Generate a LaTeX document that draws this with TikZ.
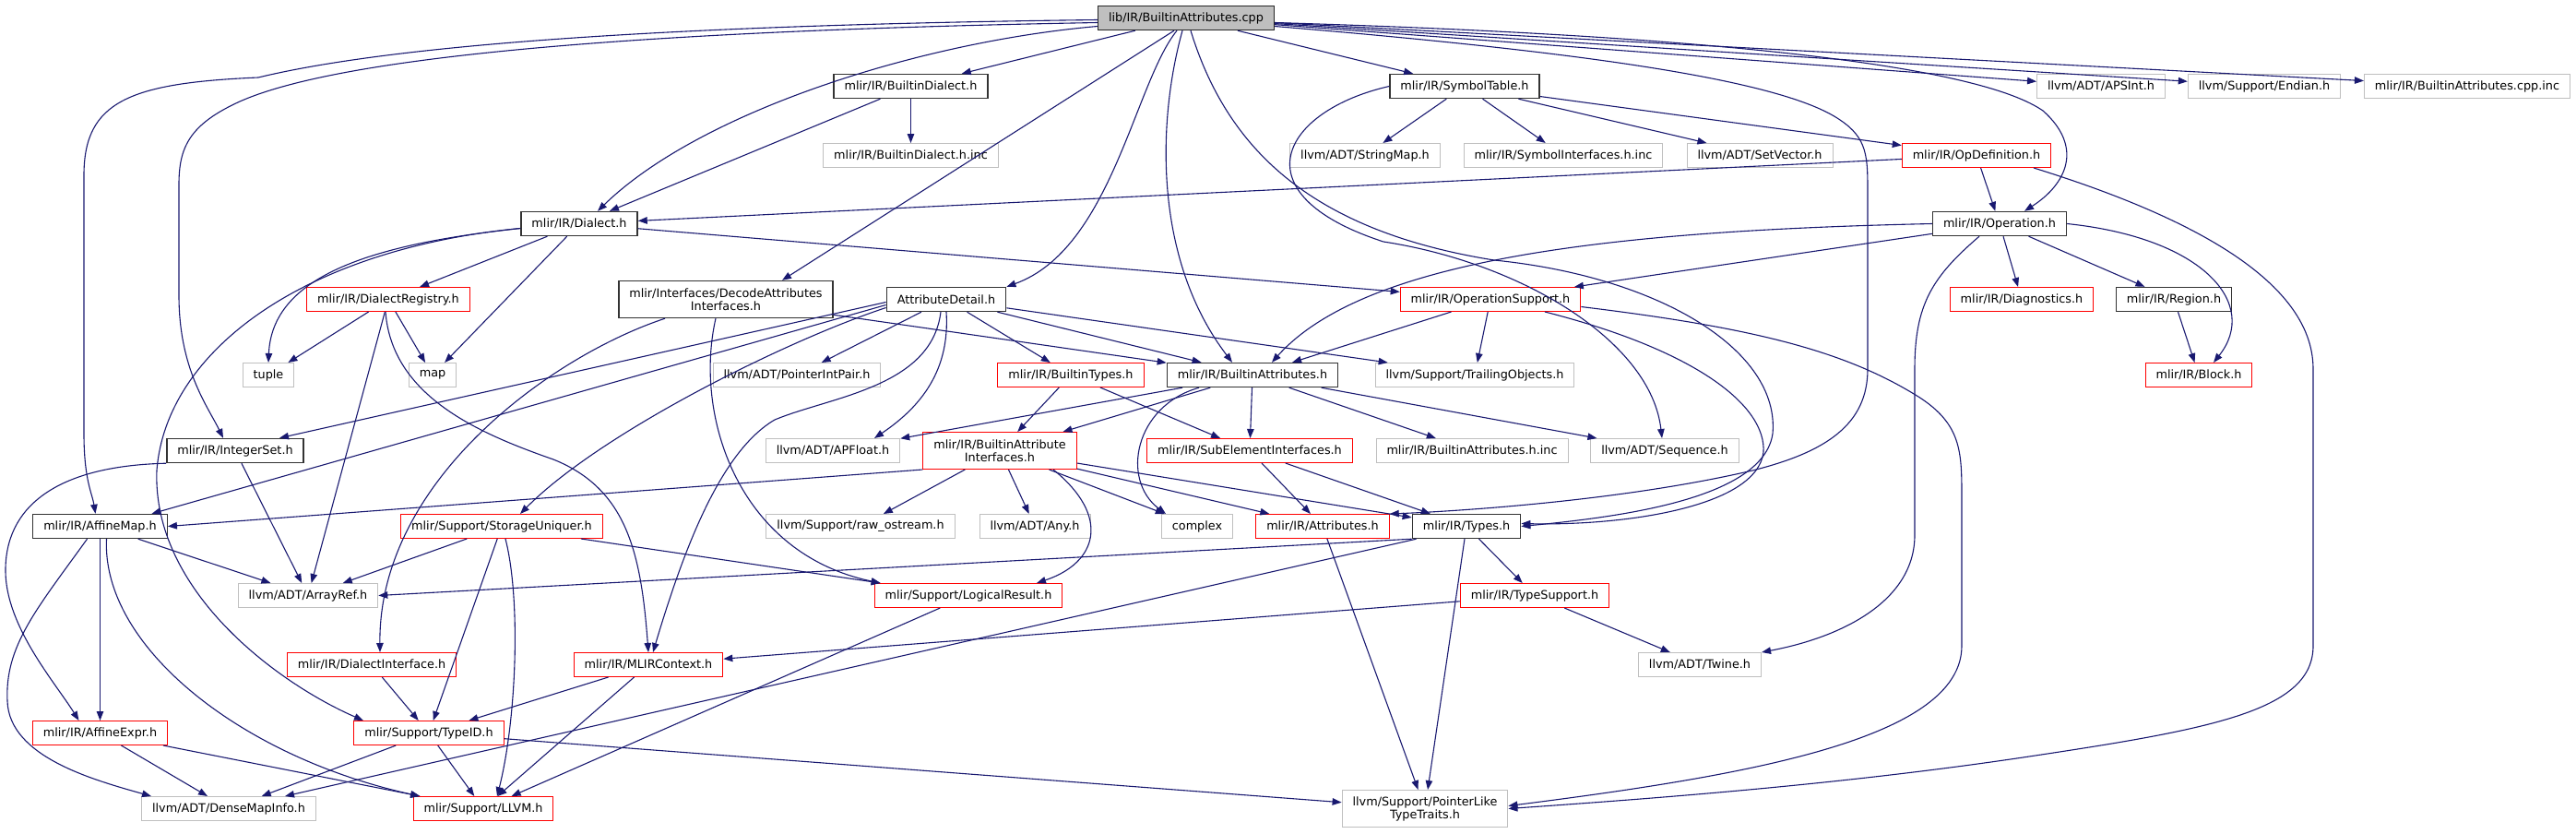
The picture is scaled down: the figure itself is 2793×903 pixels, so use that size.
\documentclass[tikz,border=0pt]{standalone}
\usepackage{fontspec}
\setmainfont{DejaVu Sans}
\usetikzlibrary{arrows.meta}
\definecolor{edgeblue}{RGB}{25,25,112}
\definecolor{extgray}{RGB}{191,191,191}
\begin{document}
\begin{tikzpicture}[
  x=1pt, y=-1pt,
  every node/.style={font=\fontsize{12.8}{14}\selectfont},
  file/.style={rectangle, fill=white, inner xsep=11.5pt, inner ysep=0pt, minimum height=26pt, line width=1pt, align=center},
  tall/.style={minimum height=40pt},
  root/.style={file, draw=black!85, line width=1.4pt, fill=extgray},
  doc/.style={file, draw=black!80, line width=1.4pt},
  ext/.style={file, draw=extgray},
  trunc/.style={file, draw=red},
  dep/.style={-{Triangle[length=10pt,width=7.5pt]}, draw=edgeblue, line width=1.1pt}
]
  \useasboundingbox (0,0) rectangle (2793,903);

  \node[root] (cpp) at (1286,19.5) {lib/IR/BuiltinAttributes.cpp};
  \node[doc] (bdialect) at (987.5,93.5) {mlir/IR/BuiltinDialect.h};
  \node[doc] (symtab) at (1588,93.5) {mlir/IR/SymbolTable.h};
  \node[ext] (apsint) at (2278,93.5) {llvm/ADT/APSInt.h};
  \node[ext] (endian) at (2455,93.5) {llvm/Support/Endian.h};
  \node[ext] (cppinc) at (2675,93.5) {mlir/IR/BuiltinAttributes.cpp.inc};
  \node[ext] (bdinc) at (987.5,168.5) {mlir/IR/BuiltinDialect.h.inc};
  \node[ext] (strmap) at (1480,168.5) {llvm/ADT/StringMap.h};
  \node[ext] (syminc) at (1695,168.5) {mlir/IR/SymbolInterfaces.h.inc};
  \node[ext] (setvec) at (1908,168.5) {llvm/ADT/SetVector.h};
  \node[trunc] (opdef) at (2143,168.5) {mlir/IR/OpDefinition.h};
  \node[doc] (dialect) at (628,242.5) {mlir/IR/Dialect.h};
  \node[doc] (operation) at (2168,242.5) {mlir/IR/Operation.h};
  \node[trunc] (registry) at (421,324.5) {mlir/IR/DialectRegistry.h};
  \node[doc,tall] (decode) at (787,324.5) {mlir/Interfaces/DecodeAttributes\\Interfaces.h};
  \node[doc] (attrdetail) at (1026,324.5) {AttributeDetail.h};
  \node[trunc] (opsupport) at (1616,324.5) {mlir/IR/OperationSupport.h};
  \node[trunc] (diag) at (2192,324.5) {mlir/IR/Diagnostics.h};
  \node[doc] (region) at (2357,324.5) {mlir/IR/Region.h};
  \node[ext] (tuple) at (291,406.5) {tuple};
  \node[ext] (stdmap) at (469,406.5) {map};
  \node[ext] (ptrint) at (864,406.5) {llvm/ADT/PointerIntPair.h};
  \node[trunc] (btypes) at (1161,406.5) {mlir/IR/BuiltinTypes.h};
  \node[doc] (battrs) at (1358,406.5) {mlir/IR/BuiltinAttributes.h};
  \node[ext] (trailing) at (1599,406.5) {llvm/Support/TrailingObjects.h};
  \node[trunc] (block) at (2384,406.5) {mlir/IR/Block.h};
  \node[doc] (intset) at (255,488.5) {mlir/IR/IntegerSet.h};
  \node[ext] (apfloat) at (903,488.5) {llvm/ADT/APFloat.h};
  \node[trunc,tall] (bai) at (1084,488.5) {mlir/IR/BuiltinAttribute\\Interfaces.h};
  \node[trunc] (subelem) at (1355,488.5) {mlir/IR/SubElementInterfaces.h};
  \node[ext] (battrsinc) at (1596,488.5) {mlir/IR/BuiltinAttributes.h.inc};
  \node[ext] (sequence) at (1805,488.5) {llvm/ADT/Sequence.h};
  \node[doc] (affmap) at (108.5,570.5) {mlir/IR/AffineMap.h};
  \node[trunc] (uniquer) at (544,570.5) {mlir/Support/StorageUniquer.h};
  \node[ext] (rawos) at (933,570.5) {llvm/Support/raw\_ostream.h};
  \node[ext] (anyh) at (1122,570.5) {llvm/ADT/Any.h};
  \node[ext] (complex) at (1298,570.5) {complex};
  \node[trunc] (attrs) at (1434,570.5) {mlir/IR/Attributes.h};
  \node[doc] (types) at (1590,570.5) {mlir/IR/Types.h};
  \node[ext] (arrayref) at (334,645.5) {llvm/ADT/ArrayRef.h};
  \node[trunc] (logical) at (1050,645.5) {mlir/Support/LogicalResult.h};
  \node[trunc] (typesupp) at (1664,645.5) {mlir/IR/TypeSupport.h};
  \node[trunc] (dinterface) at (403,720.5) {mlir/IR/DialectInterface.h};
  \node[trunc] (context) at (703,720.5) {mlir/IR/MLIRContext.h};
  \node[ext] (twine) at (1843,720.5) {llvm/ADT/Twine.h};
  \node[trunc] (affexpr) at (108.5,794.5) {mlir/IR/AffineExpr.h};
  \node[trunc] (typeid) at (465,794.5) {mlir/Support/TypeID.h};
  \node[ext] (densemap) at (248,876.5) {llvm/ADT/DenseMapInfo.h};
  \node[trunc] (llvm) at (524,876.5) {mlir/Support/LLVM.h};
  \node[ext,tall] (ptrlike) at (1545,876.5) {llvm/Support/PointerLike\\TypeTraits.h};

  \foreach \src/\dst in {cpp/bdialect, cpp/symtab, cpp/apsint, cpp/endian, cpp/cppinc,
      bdialect/dialect, bdialect/bdinc, symtab/strmap, symtab/syminc, symtab/setvec, symtab/opdef,
      opdef/dialect, opdef/operation, operation/diag, operation/region, region/block,
      operation/opsupport, dialect/registry, dialect/stdmap, dialect/opsupport,
      registry/tuple, registry/stdmap, registry/arrayref, decode/battrs,
      attrdetail/ptrint, attrdetail/btypes, attrdetail/battrs, attrdetail/trailing,
      opsupport/battrs, opsupport/trailing, btypes/bai, btypes/subelem,
      battrs/subelem, battrs/battrsinc, battrs/sequence, battrs/apfloat, battrs/bai,
      bai/rawos, bai/anyh, bai/complex, bai/attrs, bai/types, subelem/attrs, subelem/types,
      attrs/ptrlike, types/typesupp, types/ptrlike, typesupp/context, typesupp/twine,
      intset/arrayref, affmap/arrayref, affmap/affexpr, affexpr/densemap, affexpr/llvm,
      typeid/densemap, typeid/llvm, typeid/ptrlike, dinterface/typeid, context/typeid,
      context/llvm, uniquer/arrayref, uniquer/typeid, logical/llvm}
    \draw[dep] (\src) -- (\dst);

  \draw[dep] ([yshift=-2pt]cpp.west) .. controls (650,28) and (400,55) .. (280,84) .. controls (140,90) and (91,110) .. (91,190) -- (91,470) .. controls (91,520) and (100,535) .. ([xshift=-5pt]affmap.north);
  \draw[dep] ([yshift=-5pt]cpp.west) .. controls (600,35) and (350,70) .. (260,110) .. controls (205,135) and (194,160) .. (194,200) -- (194,320) .. controls (194,400) and (225,440) .. ([xshift=-13pt]intset.north);
  \draw[dep] ([yshift=-9pt]cpp.west) .. controls (1000,45) and (760,120) .. ([xshift=20pt]dialect.north);
  \draw[dep] ([xshift=-13pt]cpp.south) -- ([xshift=61pt]decode.north);
  \draw[dep] ([xshift=-10pt]cpp.south) .. controls (1230,90) and (1205,270) .. (attrdetail.north east);
  \draw[dep] ([xshift=-4pt]cpp.south) .. controls (1255,130) and (1250,280) .. ([xshift=-22pt]battrs.north);
  \draw[dep] ([xshift=5pt]cpp.south) .. controls (1330,160) and (1420,250) .. (1620,282) .. controls (1800,300) and (1930,380) .. (1922,470) .. controls (1912,540) and (1760,560) .. (types.east);
  \draw[dep] ([yshift=-5pt]cpp.east) .. controls (1900,40) and (2150,75) .. (2215,120) .. controls (2260,160) and (2240,200) .. ([xshift=27pt]operation.north);
  \draw[dep] ([yshift=-9pt]cpp.east) .. controls (1700,55) and (1930,85) .. (1995,130) .. controls (2025,150) and (2025,170) .. (2025,210) -- (2025,400) .. controls (2025,460) and (1980,490) .. (1900,510) .. controls (1750,545) and (1560,555) .. (attrs.north east);
  \draw[dep] (symtab.west) .. controls (1390,120) and (1340,210) .. (1500,262) .. controls (1650,285) and (1790,370) .. ([xshift=-3pt]sequence.north);
  \draw[dep] ([xshift=62pt]opdef.south) .. controls (2360,230) and (2508,300) .. (2508,400) -- (2508,700) .. controls (2508,770) and (2400,790) .. (2200,820) .. controls (2000,850) and (1800,865) .. (ptrlike.east);
  \draw[dep] (operation.east) .. controls (2390,258) and (2450,330) .. ([xshift=16pt]block.north);
  \draw[dep] ([xshift=-22pt]operation.south) .. controls (2095,300) and (2076,330) .. (2076,400) -- (2076,580) .. controls (2076,650) and (2000,690) .. (twine.north east);
  \draw[dep] (operation.west) .. controls (1750,250) and (1480,280) .. ([xshift=21pt]battrs.north);
  \draw[dep] ([yshift=-5pt]dialect.west) .. controls (400,265) and (295,300) .. (tuple.north);
  \draw[dep] ([yshift=-5pt]dialect.west) .. controls (330,270) and (180,380) .. (170,510) .. controls (165,640) and (300,740) .. ([xshift=-71pt]typeid.north);
  \draw[dep] ([xshift=-3pt]registry.south) .. controls (425,430) and (520,470) .. (600,498) .. controls (680,530) and (695,600) .. (context.north);
  \draw[dep] ([xshift=-66pt]decode.south) .. controls (600,385) and (410,520) .. ([xshift=9pt]dinterface.north);
  \draw[dep] ([xshift=-11pt]decode.south) .. controls (752,450) and (800,600) .. ([xshift=7pt]logical.north west);
  \draw[dep] (attrdetail.south) .. controls (1030,400) and (1000,440) .. ([xshift=45pt]apfloat.north);
  \draw[dep] ([xshift=-6pt]attrdetail.south) .. controls (1010,420) and (900,430) .. (840,455) .. controls (780,490) and (740,600) .. ([xshift=5pt]context.north);
  \draw[dep] ([yshift=-3pt]attrdetail.west) -- ([xshift=48pt]intset.north);
  \draw[dep] ([yshift=-6pt]attrdetail.west) -- ([xshift=56pt]affmap.north);
  \draw[dep] ([yshift=-9pt]attrdetail.west) .. controls (850,370) and (650,470) .. ([xshift=20pt]uniquer.north);
  \draw[dep] ([xshift=59pt]opsupport.south) .. controls (1840,380) and (1915,440) .. (1912,490) .. controls (1905,550) and (1760,570) .. ([yshift=3pt]types.east);
  \draw[dep] ([yshift=-8pt]opsupport.east) .. controls (1900,355) and (2000,380) .. (2080,430) .. controls (2127,460) and (2127,490) .. (2127,540) -- (2127,700) .. controls (2127,800) and (1900,840) .. ([yshift=3pt]ptrlike.east);
  \draw[dep] ([xshift=-58pt]battrs.south) .. controls (1230,440) and (1215,520) .. ([xshift=-34pt]complex.north);
  \draw[dep] (bai.south west) -- (affmap.east);
  \draw[dep] ([xshift=58pt]bai.south) .. controls (1205,560) and (1190,610) .. ([xshift=74pt]logical.north);
  \draw[dep] (intset.south west) .. controls (60,505) and (5,550) .. (6,620) .. controls (7,680) and (60,740) .. ([xshift=-23pt]affexpr.north);
  \draw[dep] ([xshift=-14pt]affmap.south) .. controls (40,660) and (5,700) .. (8,760) .. controls (10,820) and (100,845) .. ([xshift=-84pt]densemap.north);
  \draw[dep] ([xshift=7pt]affmap.south) .. controls (110,700) and (260,820) .. ([xshift=-69pt]llvm.north);
  \draw[dep] ([xshift=4pt]uniquer.south) .. controls (565,650) and (560,780) .. ([xshift=15pt]llvm.north);
  \draw[dep] ([xshift=86pt]uniquer.south) -- ([xshift=7pt]logical.north west);
  \draw[dep] (types.south west) -- (arrayref.east);
  \draw[dep] ([xshift=5pt]types.south west) -- ([xshift=61pt]densemap.north);
\end{tikzpicture}
\end{document}
